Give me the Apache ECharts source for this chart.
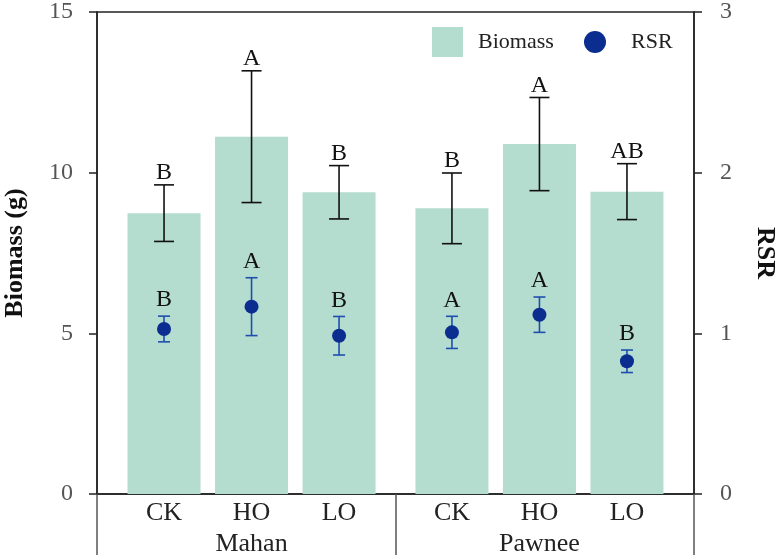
<!DOCTYPE html>
<html>
<head>
<meta charset="utf-8">
<script src="https://cdn.jsdelivr.net/npm/echarts@6/dist/echarts.min.js"></script>
<style>
  html, body { margin: 0; padding: 0; background: #fff; }
  #chart { width: 776px; height: 560px; }
</style>
</head>
<body>
<div id="chart"></div>
<script>
// data
const treatments = ['CK', 'HO', 'LO', 'CK', 'HO', 'LO']
const sites = ['Mahan', 'Pawnee']
const siteOf = [0, 0, 0, 1, 1, 1]
const biomass = [8.74, 11.12, 9.39, 8.89, 10.89, 9.41]
const biomassErr = [0.88, 2.05, 0.83, 1.10, 1.45, 0.87]
const biomassLetters = ['B', 'A', 'B', 'B', 'A', 'AB']
const rsr = [1.027, 1.166, 0.985, 1.006, 1.116, 0.826]
const rsrErr = [0.08, 0.18, 0.12, 0.10, 0.11, 0.07]
const rsrLetters = ['B', 'A', 'B', 'A', 'A', 'B']
const biomassTicks = [0, 5, 10, 15]
const rsrTicks = [0, 1, 2, 3]

// layout: slot positions along the x value axis, extra gap between sites
const siteGap = 0.29
const xPos = treatments.map((t, i) => i + 1 + siteOf[i] * siteGap)
const xMin = xPos[0] - 0.766
const xMax = xPos[xPos.length - 1] + 0.766
const siteCenter = sites.map((s, k) => xPos[k * 3 + 1])
const siteBound = (xPos[2] + xPos[3]) / 2

const font = 'Liberation Serif'
const barColor = '#b4dccf'
const dotColor = '#0a2d8f'
const errBlue = '#1f4fae'

function errorBars (capW, color, lift) {
  return function (params, api) {
    const x = api.value(0)
    const lo = api.coord([x, api.value(1)])
    const hi = api.coord([x, api.value(2)])
    const st = { stroke: color, lineWidth: 1.6 }
    return {
      type: 'group',
      children: [
        { type: 'line', shape: { x1: lo[0], y1: lo[1], x2: hi[0], y2: hi[1] }, style: st },
        { type: 'line', shape: { x1: lo[0] - capW / 2, y1: lo[1], x2: lo[0] + capW / 2, y2: lo[1] }, style: st },
        { type: 'line', shape: { x1: hi[0] - capW / 2, y1: hi[1], x2: hi[0] + capW / 2, y2: hi[1] }, style: st },
        {
          type: 'text',
          x: hi[0],
          y: hi[1] - lift,
          style: {
            text: api.value(3),
            fontFamily: font,
            fontSize: 24,
            fill: '#111',
            align: 'center',
            verticalAlign: 'bottom'
          }
        }
      ]
    }
  }
}

const chart = echarts.init(document.getElementById('chart'))

chart.setOption({
  animation: false,
  textStyle: { fontFamily: font },
  grid: {
    left: 97,
    right: 82,
    top: 12,
    bottom: 66,
    show: true,
    borderColor: '#222',
    borderWidth: 1.5,
    containLabel: false,
    outerBoundsMode: 'none'
  },
  legend: [{
    data: [{ name: 'Biomass', icon: 'rect' }],
    left: 427,
    top: 22,
    itemWidth: 31,
    itemHeight: 30,
    textStyle: { fontFamily: font, fontSize: 22, color: '#222', padding: [0, 0, 0, 10] }
  }, {
    data: [{ name: 'RSR', icon: 'circle' }],
    left: 579,
    top: 26,
    itemWidth: 22,
    itemHeight: 22,
    textStyle: { fontFamily: font, fontSize: 22, color: '#222', padding: [0, 0, 0, 20] }
  }],
  xAxis: [{
    type: 'value',
    min: xMin,
    max: xMax,
    splitLine: { show: false },
    axisLine: { show: true, onZero: false, lineStyle: { color: '#222', width: 1.5 } },
    axisTick: { show: false },
    axisLabel: {
      customValues: xPos,
      formatter: v => treatments[xPos.findIndex(p => Math.abs(p - v) < 1e-6)],
      fontFamily: font,
      fontSize: 26,
      color: '#222',
      margin: 6
    }
  }, {
    type: 'value',
    position: 'bottom',
    min: xMin,
    max: xMax,
    splitLine: { show: false },
    axisLine: { show: false, onZero: false },
    axisTick: {
      show: true,
      customValues: [xMin, siteBound, xMax],
      length: 61,
      lineStyle: { color: '#555', width: 1.5 }
    },
    axisLabel: {
      customValues: siteCenter,
      formatter: v => sites[siteCenter.findIndex(p => Math.abs(p - v) < 1e-6)],
      fontFamily: font,
      fontSize: 26,
      color: '#222',
      margin: 37
    }
  }],
  yAxis: [{
    type: 'value',
    min: 0,
    max: 15,
    interval: 5,
    name: 'Biomass (g)',
    nameLocation: 'middle',
    nameGap: 69,
    nameTextStyle: { fontFamily: font, fontSize: 26, fontWeight: 'bold', color: '#111' },
    splitLine: { show: false },
    axisLine: { show: true, onZero: false, lineStyle: { color: '#222', width: 1.5 } },
    axisTick: { show: true, inside: false, length: 8, lineStyle: { color: '#222', width: 1.5 } },
    axisLabel: {
      formatter: v => biomassTicks.includes(v) ? String(v) : '',
      fontFamily: font,
      fontSize: 24,
      color: '#555',
      margin: 24
    }
  }, {
    type: 'value',
    position: 'right',
    min: 0,
    max: 3,
    interval: 1,
    name: 'RSR',
    nameLocation: 'middle',
    nameGap: 58,
    nameRotate: -90,
    nameTextStyle: { fontFamily: font, fontSize: 26, fontWeight: 'bold', color: '#111' },
    splitLine: { show: false },
    axisLine: { show: true, onZero: false, lineStyle: { color: '#222', width: 1.5 } },
    axisTick: { show: true, inside: false, length: 8, lineStyle: { color: '#222', width: 1.5 } },
    axisLabel: {
      formatter: v => rsrTicks.includes(v) ? String(v) : '',
      fontFamily: font,
      fontSize: 24,
      color: '#555',
      margin: 26
    }
  }],
  series: [{
    name: 'Biomass',
    type: 'bar',
    xAxisIndex: 0,
    yAxisIndex: 0,
    barWidth: 73,
    itemStyle: { color: barColor },
    data: xPos.map((x, i) => [x, biomass[i]])
  }, {
    name: 'BiomassErr',
    type: 'custom',
    xAxisIndex: 0,
    yAxisIndex: 0,
    renderItem: errorBars(20, '#111', 0),
    encode: { x: 0, y: [1, 2] },
    data: xPos.map((x, i) => [x, biomass[i] - biomassErr[i], biomass[i] + biomassErr[i], biomassLetters[i]]),
    z: 3
  }, {
    name: 'RSRErr',
    type: 'custom',
    xAxisIndex: 0,
    yAxisIndex: 1,
    renderItem: errorBars(12, errBlue, 4),
    encode: { x: 0, y: [1, 2] },
    data: xPos.map((x, i) => [x, rsr[i] - rsrErr[i], rsr[i] + rsrErr[i], rsrLetters[i]]),
    z: 4
  }, {
    name: 'RSR',
    type: 'scatter',
    xAxisIndex: 0,
    yAxisIndex: 1,
    symbol: 'circle',
    symbolSize: 14,
    itemStyle: { color: dotColor, opacity: 1 },
    data: xPos.map((x, i) => [x, rsr[i]]),
    z: 5
  }]
})
</script>
</body>
</html>
